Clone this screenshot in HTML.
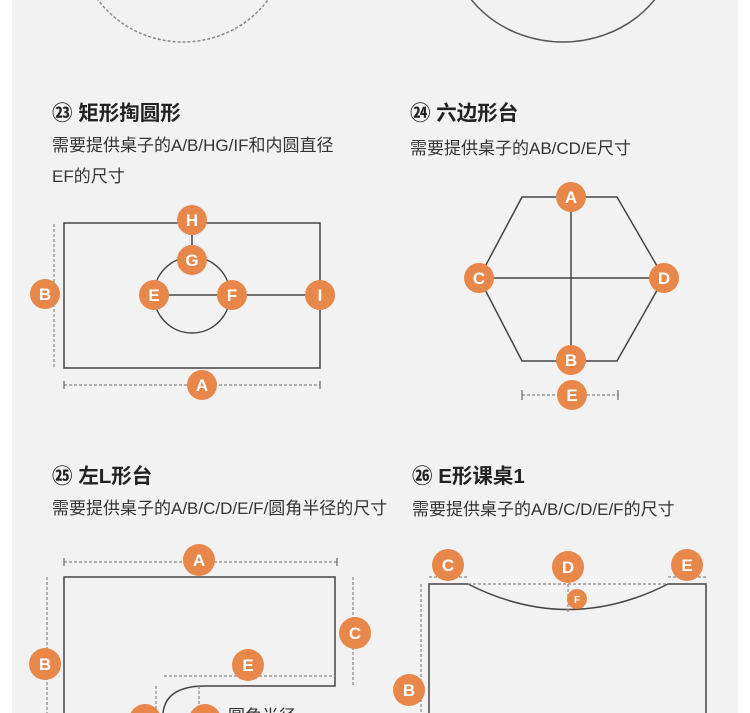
<!DOCTYPE html>
<html><head><meta charset="utf-8"><style>
body{margin:0;background:#fff;}
svg{display:block;}
text{font-family:"Liberation Sans","Noto Sans CJK SC",sans-serif;}
.t{font-size:20.5px;font-weight:bold;fill:#222;}
.s{font-size:17px;fill:#333;}
.l{font-size:17px;fill:#fff;text-anchor:middle;font-weight:bold;}
</style></head><body>
<svg width="750" height="713" viewBox="0 0 750 713">
<rect x="12" y="0" width="726" height="713" fill="#f2f2f2"/>
<g fill="none" stroke="#555" stroke-width="1.5">
<ellipse cx="183" cy="-60" rx="105" ry="102" stroke="#888" stroke-dasharray="3,2"/>
<ellipse cx="563" cy="-60" rx="113" ry="102" stroke="#555"/>
</g>
<text class="t" x="52" y="120">㉓ 矩形掏圆形</text>
<text class="s" x="52" y="151">需要提供桌子的A/B/HG/IF和内圆直径</text>
<text class="s" x="52" y="182">EF的尺寸</text>
<text class="t" x="410" y="120">㉔ 六边形台</text>
<text class="s" x="410" y="154">需要提供桌子的AB/CD/E尺寸</text>
<text class="t" x="52" y="483">㉕ 左L形台</text>
<text class="s" x="52" y="514">需要提供桌子的A/B/C/D/E/F/圆角半径的尺寸</text>
<text class="t" x="412" y="483">㉖ E形课桌1</text>
<text class="s" x="412" y="515">需要提供桌子的A/B/C/D/E/F的尺寸</text>
<g fill="none" stroke="#444" stroke-width="1.5">
<rect x="64" y="223" width="256" height="145"/>
<circle cx="192" cy="295" r="38"/>
<line x1="154" y1="295" x2="320" y2="295"/>
<line x1="192" y1="220" x2="192" y2="260"/>
<polygon points="522,197 617,197 664,278 617,361 522,361 479,278"/>
<line x1="571" y1="197" x2="571" y2="361"/>
<line x1="479" y1="278" x2="664" y2="278"/>
<path d="M64,713 V577 H335 V686 H205 Q166,686 163,713"/>
<path d="M706,713 V584 H668 Q568,635 468,584 H429 V713"/>
</g>
<g fill="none" stroke="#888" stroke-width="1.2" stroke-dasharray="3,2">
<line x1="54" y1="224" x2="54" y2="368"/>
<line x1="64" y1="385" x2="320" y2="385"/>
<line x1="522" y1="395" x2="618" y2="395"/>
<line x1="64" y1="562" x2="337" y2="562"/>
<line x1="47" y1="577" x2="47" y2="713"/>
<line x1="353" y1="577" x2="353" y2="686"/>
<line x1="164" y1="676" x2="335" y2="676"/>
<line x1="156" y1="686" x2="156" y2="713"/>
<line x1="199" y1="686" x2="199" y2="713"/>
<line x1="429" y1="577" x2="468" y2="577"/>
<line x1="668" y1="577" x2="706" y2="577"/>
<line x1="468" y1="584" x2="668" y2="584"/>
<line x1="568" y1="584" x2="568" y2="612"/>
<line x1="421" y1="584" x2="421" y2="713"/>
</g>
<g stroke="#666" stroke-width="1.2">
<line x1="522" y1="390" x2="522" y2="400"/><line x1="618" y1="390" x2="618" y2="400"/>
<line x1="64" y1="381" x2="64" y2="389"/><line x1="320" y1="381" x2="320" y2="389"/>
<line x1="64" y1="558" x2="64" y2="566"/><line x1="337" y1="558" x2="337" y2="566"/>
</g>
<g fill="#e8874a">
<circle cx="192" cy="220" r="15"/><circle cx="192" cy="260" r="15"/>
<circle cx="154" cy="295" r="15"/><circle cx="232" cy="295" r="15"/>
<circle cx="320" cy="295" r="15"/><circle cx="45" cy="294" r="15"/>
<circle cx="202" cy="385" r="15"/>
<circle cx="571" cy="197" r="15"/><circle cx="571" cy="360" r="15"/>
<circle cx="479" cy="278" r="15"/><circle cx="664" cy="278" r="15"/>
<circle cx="572" cy="395" r="15"/>
<circle cx="199" cy="560" r="16"/><circle cx="355" cy="633" r="16"/>
<circle cx="45" cy="664" r="16"/><circle cx="248" cy="665" r="16"/>
<circle cx="145" cy="720" r="16"/><circle cx="205" cy="720" r="16"/>
<circle cx="448" cy="565" r="16"/><circle cx="568" cy="567" r="16"/>
<circle cx="687" cy="565" r="16"/><circle cx="577" cy="599" r="10"/>
<circle cx="409" cy="690" r="16"/>
</g>
<g>
<text class="l" x="192" y="226">H</text><text class="l" x="192" y="266">G</text>
<text class="l" x="154" y="301">E</text><text class="l" x="232" y="301">F</text>
<text class="l" x="320" y="301">I</text><text class="l" x="45" y="300">B</text>
<text class="l" x="202" y="391">A</text>
<text class="l" x="571" y="203">A</text><text class="l" x="571" y="366">B</text>
<text class="l" x="479" y="284">C</text><text class="l" x="664" y="284">D</text>
<text class="l" x="572" y="401">E</text>
<text class="l" x="199" y="566">A</text><text class="l" x="355" y="639">C</text>
<text class="l" x="45" y="670">B</text><text class="l" x="248" y="671">E</text>
<text class="l" x="448" y="571">C</text><text class="l" x="568" y="573">D</text>
<text class="l" x="687" y="571">E</text><text class="l" x="577" y="603" style="font-size:10px">F</text>
<text class="l" x="409" y="696">B</text>
</g>
<text class="s" x="228" y="722">圆角半径</text>
</svg>
</body></html>
